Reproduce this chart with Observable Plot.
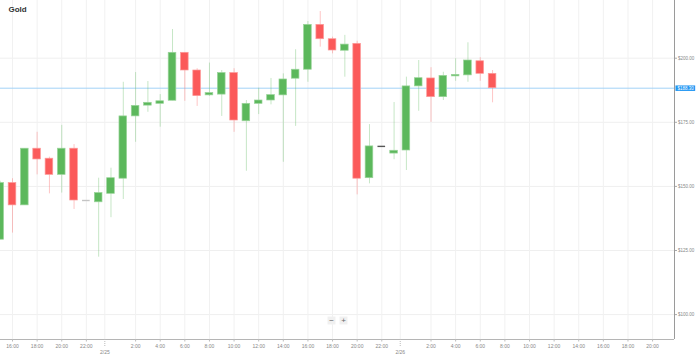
<!DOCTYPE html>
<html>
<head>
<meta charset="utf-8">
<script src="https://cdn.jsdelivr.net/npm/d3@7"></script>
<script src="https://cdn.jsdelivr.net/npm/@observablehq/plot@0.6"></script>
<style>
  html, body { margin: 0; padding: 0; background: #fff; }
  #chart svg { display: block; }
</style>
</head>
<body>
<div id="chart"></div>
<script>
// Hour index counted from 2/24 00:00
const hours  = [15,16,17,18,19,20,21,22,23,24,25,26,27,28,29,30,31,32,33,34,35,36,37,38,39,40,41,42,43,44,45,46,47,48,49,50,51,52,53,54,55];
const opens  = [129.2,151.3,142.6,164.7,160.8,154.5,164.7,144.5,143.8,147.1,153.0,177.3,181.5,182.2,183.4,202.1,195.2,185.5,185.8,194.2,175.4,182.2,183.5,185.5,192.0,195.5,213.0,207.4,202.9,205.6,153.2,165.6,162.8,164.0,189.0,192.1,184.8,192.9,193.3,198.8,193.9];
const highs  = [152.0,153.0,164.7,171.1,161.4,173.8,166.3,144.5,153.2,157.1,190.6,194.4,190.9,185.8,211.2,202.1,195.9,198.1,195.2,195.9,183.5,188.3,192.1,193.9,203.3,214.3,218.2,208.2,208.9,206.6,174.1,165.6,182.7,192.6,199.1,196.3,194.5,199.8,206.0,200.2,195.2];
const lows   = [129.2,131.8,142.6,154.5,147.1,147.4,141.0,144.5,122.4,137.8,144.9,167.2,178.9,173.1,183.4,183.2,181.2,185.1,177.3,171.1,155.9,178.0,181.8,159.4,173.4,190.6,204.3,201.7,192.6,146.7,151.0,165.6,160.4,156.2,179.3,175.0,183.5,191.0,190.6,191.0,182.6];
const closes = [151.3,142.6,164.7,160.5,154.5,164.7,144.5,144.5,147.4,153.2,177.3,181.4,182.6,183.2,202.1,195.2,185.2,186.4,194.2,175.7,182.2,183.5,185.6,191.7,195.5,213.0,207.4,203.0,205.3,153.0,165.6,165.6,163.9,189.0,192.2,184.8,193.1,193.5,199.1,193.9,188.3];

const priceTicks = [100, 125, 150, 175, 200];
const hourTicks  = [16,18,20,22,26,28,30,32,34,36,38,40,42,44,46,50,52,54,56,58,60,62,64,66,68];
const dateTicks  = [23.5, 47.5];
const dateLabels = ["2/25", "2/26"];
const title = "Gold";

const candles = hours.map((h, i) => ({h, open: opens[i], high: highs[i], low: lows[i], close: closes[i]}));
const dojis = candles.filter(d => d.open === d.close);
const bodies = candles.filter(d => d.open !== d.close);
const lastClose = closes[closes.length - 1];

const xMin = 15.025, xMax = 69.78;
const yMin = 90.29, yMax = 222.5;
const GREEN = "#5cb85c", RED = "#fb5a5a";
const colorOf = d => d.close >= d.open ? GREEN : RED;
const half = 0.31;
const fmtPrice = d3.format("$.2f");

const chart = Plot.plot({
  width: 699,
  height: 357,
  marginLeft: 0,
  marginTop: 0,
  marginRight: 25,
  marginBottom: 18,
  style: {fontFamily: "'Liberation Sans', Arial, sans-serif", background: "#fff"},
  x: {type: "linear", domain: [xMin, xMax], axis: null, label: null},
  y: {domain: [yMin, yMax], axis: null, label: null},
  marks: [
    // grid
    Plot.ruleY(priceTicks, {stroke: "#efefef"}),
    Plot.ruleX(hourTicks.concat(dateTicks), {stroke: "#f1f1f1"}),
    // current price line
    Plot.ruleY([lastClose], {stroke: "#a3d2f7", strokeWidth: 1}),
    // wicks
    Plot.ruleX(candles, {x: "h", y1: "low", y2: "high", stroke: colorOf, strokeOpacity: 0.35, strokeWidth: 1, clip: true}),
    // bodies
    Plot.rect(bodies, {
      x1: d => d.h - half, x2: d => d.h + half,
      y1: "open", y2: "close",
      fill: colorOf, stroke: d => d.close >= d.open ? "#9ad49a" : "#fc9a9a", strokeWidth: 0.7,
      clip: true
    }),
    Plot.ruleY(dojis, {
      y: "open", x1: d => d.h - half, x2: d => d.h + half,
      stroke: d => d.h < 40 ? "#c4c4c4" : "#555", strokeWidth: 1.4
    }),
    // axis lines
    Plot.ruleY([yMin], {stroke: "#b5b5b5"}),
    Plot.ruleX([xMax], {stroke: "#9a9a9a"}),
    // right axis
    Plot.axisY(priceTicks, {anchor: "right", label: null, tickSize: 2, tickPadding: 1.5, fontSize: 4.5, tickFormat: fmtPrice, color: "#888", stroke: "#aaa"}),
    // bottom axis
    Plot.axisX(hourTicks, {anchor: "bottom", label: null, tickSize: 2.5, tickPadding: 2.5, fontSize: 5, tickFormat: d => `${d % 24}:00`, color: "#888", stroke: "#bbb"}),
    Plot.axisX(dateTicks, {anchor: "bottom", label: null, tickSize: 8, tickPadding: 3, fontSize: 5, tickFormat: (d, i) => dateLabels[i], color: "#888", stroke: "#bbb", strokeDasharray: "1,1"}),
    // current price label
    Plot.ruleY([lastClose], {x1: xMax + 0.12, x2: xMax + 1.72, stroke: "#2196f3", strokeWidth: 5.5}),
    Plot.text([lastClose], {x: () => xMax, y: d => d, dx: 3, textAnchor: "start", text: fmtPrice, fill: "#fff", fontSize: 4.5}),
    // title
    Plot.text([title], {frameAnchor: "top-left", dx: 8, dy: 6, fontWeight: "bold", fontSize: 8, fill: "#333"}),
    // zoom buttons
    Plot.dot([0], {frameAnchor: "bottom", dx: -6, dy: -19, symbol: "square", r: 4.5, fill: "#f0f0f0"}),
    Plot.dot([0], {frameAnchor: "bottom", dx: 6, dy: -19, symbol: "square", r: 4.5, fill: "#f0f0f0"}),
    Plot.text(["−"], {frameAnchor: "bottom", dx: -6, dy: -19, fontSize: 8, fill: "#666", lineAnchor: "middle"}),
    Plot.text(["+"], {frameAnchor: "bottom", dx: 6, dy: -19, fontSize: 8, fill: "#666", lineAnchor: "middle"})
  ]
});
document.getElementById("chart").appendChild(chart);
</script>
</body>
</html>
